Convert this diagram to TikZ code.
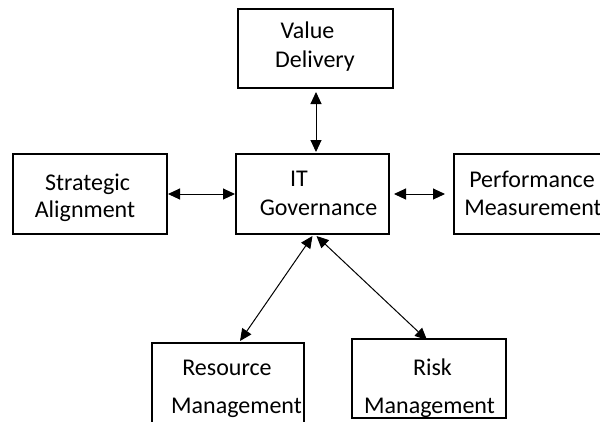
\documentclass[tikz,border=0pt]{standalone}
\usepackage{fontspec}
\setmainfont{Carlito}
\usetikzlibrary{arrows.meta,calc}
\begin{document}
\begin{tikzpicture}[x=1pt,y=-1pt,
  box/.style={draw, line width=2pt, rectangle, inner sep=0pt},
  lbl/.style={anchor=base, inner sep=0pt, font=\fontsize{24}{29}\selectfont},
  link/.style={line width=1pt, {Triangle[length=12pt,width=11pt]}-{Triangle[length=12pt,width=11pt]}}]
\useasboundingbox (0,0) rectangle (600,421);
\clip (0,0) rectangle (600,421);
% boxes
\node[box, minimum width=155pt, minimum height=79pt] (vd) at (315.5,48.5) {};
\node[box, minimum width=154pt, minimum height=80pt] (sa) at (90,194) {};
\node[box, minimum width=153pt, minimum height=80pt] (it) at (312.5,194) {};
\node[box, minimum width=155pt, minimum height=80pt] (pm) at (531.5,194) {};
\node[box, minimum width=152pt, minimum height=87pt] (rm) at (228,386.5) {};
\node[box, minimum width=154pt, minimum height=79pt] (rk) at (429,378.5) {};
% labels
\node[lbl] (vd1) at (307.5,38) {Value};
\node[lbl] (vd2) at (315,67) {Delivery};
\node[lbl] (sa1) at (87.5,190) {Strategic};
\node[lbl] (sa2) at (85,217) {Alignment};
\node[lbl] (it1) at (299,186) {IT};
\node[lbl] (it2) at (318.5,215) {Governance};
\node[lbl] (pm1) at (532,187) {Performance};
\node[lbl] (pm2) at (533,215) {Measurement};
\node[lbl] (rm1) at (227,375) {Resource};
\node[lbl] (rm2) at (236.5,413) {Management};
\node[lbl] (rk1) at (432.5,375) {Risk};
\node[lbl] (rk2) at (429.5,413) {Management};
% connectors
\draw[link] ($(vd.south)+(0.5,3)$) -- ($(vd.south |- it.north)+(0.5,-1)$);
\draw[link] (sa.east) -- (it.west);
\draw[link, shorten <=4pt, shorten >=8pt] (it.east) -- (pm.west);
\draw[link] ($(it.south)+(0,1)$) -- ($(rm.north)+(12,-1)$);
\draw[link] ($(it.south)+(4,1)$) -- ($(rk.north)+(-2,2)$);
\end{tikzpicture}
\end{document}
